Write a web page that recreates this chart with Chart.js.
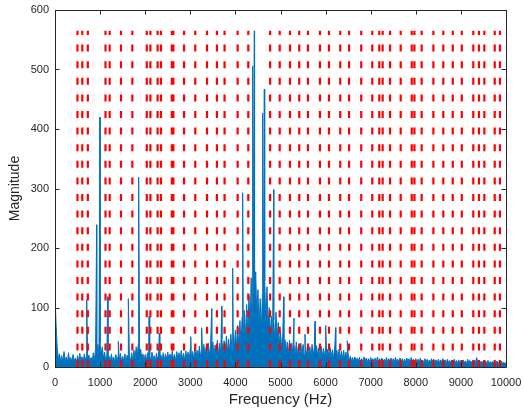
<!DOCTYPE html>
<html>
<head>
<meta charset="utf-8">
<script src="https://cdn.jsdelivr.net/npm/chart.js@4"></script>
<style>
  html, body { margin: 0; padding: 0; background: #ffffff; }
  #wrap { width: 524px; height: 414px; }
</style>
</head>
<body>
<div id="wrap"><canvas id="c" width="524" height="414"></canvas></div>
<script>
// ---------- DATA ----------
// Broadband spectrum floor, sampled every 25 Hz from 0 to 10000 Hz
const noiseStepHz = 25;
const noiseMag = [
  118, 70, 30, 14, 22, 9, 19, 8, 26, 10, 17, 7, 24, 9, 16, 8, 21, 10, 15, 8,
  19, 9, 23, 10, 17, 8, 22, 11, 18, 9, 20, 10, 16, 9, 24, 12, 30, 15, 38, 20,
  40, 22, 34, 14, 25, 10, 20, 9, 18, 8, 22, 10, 17, 9, 21, 8, 19, 10, 23, 9,
  18, 10, 22, 9, 20, 11, 17, 10, 24, 12, 28, 14, 34, 20, 40, 22, 30, 13, 22, 10,
  21, 9, 24, 11, 20, 10, 25, 12, 19, 9, 23, 11, 26, 12, 20, 10, 24, 11, 22, 12,
  25, 11, 22, 12, 27, 13, 21, 10, 26, 12, 24, 13, 28, 12, 23, 11, 27, 14, 25, 12,
  30, 14, 26, 13, 32, 15, 28, 14, 35, 16, 30, 15, 38, 17, 33, 16, 40, 18, 36, 17,
  42, 18, 37, 17, 45, 20, 40, 19, 48, 22, 44, 21, 52, 24, 47, 23, 55, 26, 60, 30,
  62, 32, 70, 35, 78, 38, 85, 42, 95, 48, 105, 55, 120, 65, 150, 80, 175, 90, 160, 85,
  130, 70, 115, 62, 125, 68, 145, 75, 135, 70, 100, 55, 85, 48, 78, 45, 92, 50, 75, 40,
  60, 32, 52, 28, 46, 25, 42, 22, 45, 24, 40, 21, 38, 20, 42, 22, 36, 19, 40, 21,
  38, 20, 35, 18, 37, 19, 34, 17, 38, 19, 33, 17, 36, 18, 32, 16, 35, 17, 31, 16,
  34, 16, 30, 15, 33, 16, 29, 14, 31, 15, 28, 13, 30, 14, 27, 13, 28, 13, 25, 12,
  22, 11, 18, 10, 16, 9, 17, 10, 15, 9, 16, 8, 14, 9, 17, 10, 15, 8, 14, 9,
  16, 9, 14, 8, 15, 9, 17, 8, 14, 9, 15, 8, 13, 9, 16, 8, 14, 9, 15, 8,
  14, 8, 16, 9, 13, 8, 15, 9, 14, 7, 13, 8, 15, 9, 14, 8, 16, 9, 13, 8,
  14, 8, 13, 7, 15, 8, 12, 7, 14, 8, 13, 7, 12, 8, 14, 7, 13, 8, 12, 7,
  13, 7, 12, 8, 14, 7, 12, 6, 13, 7, 11, 7, 12, 6, 13, 7, 11, 6, 12, 7,
  11, 6, 12, 7, 10, 6, 13, 7, 11, 6, 10, 6, 12, 7, 16, 7, 11, 6, 10, 6,
  11, 6, 10, 5, 11, 6, 9, 5, 10, 6, 9, 5, 10, 5, 9, 5, 10, 5, 8, 5,
  8
];

// Tonal peaks (Hz) and their magnitudes
const peakFreq = [703, 924, 998, 1168, 1404, 1626, 1855, 2085, 2313, 3010, 3252, 3474, 3696,
                  3940, 4161, 4383, 4420, 4605, 4641, 4849, 5070, 5299, 5543, 5765, 6002, 6224, 6482];
const peakMag  = [113, 239, 420, 118, 43, 115, 319, 85, 57, 51, 66, 98, 102,
                  166, 293, 506, 565, 427, 467, 298, 118, 82, 55, 77, 70, 66, 44];

// Marker frequencies (red dashed verticals) and their height
const markerFreq = [498, 605, 728, 1120, 1212, 1463, 1715, 2035, 2115, 2275, 2350, 2590, 2625,
                    2862, 3110, 3370, 3590, 3760, 4050, 4286, 4770, 4982, 5210, 5415, 5610,
                    5875, 6075, 6325, 6520, 6790, 7035, 7190, 7265, 7430, 7665, 7910, 7970,
                    8130, 8390, 8610, 8820, 9020, 9275, 9400, 9520, 9750, 9865];
const markerTop = 565;

const xTicks = [0, 1000, 2000, 3000, 4000, 5000, 6000, 7000, 8000, 9000, 10000];
const yTicks = [0, 100, 200, 300, 400, 500, 600];

// ---------- BUILD ----------
const spectrum = noiseMag.map((m, i) => ({ x: i * noiseStepHz, y: m }))
  .concat(peakFreq.map((f, i) => ({ x: f, y: peakMag[i] })))
  .sort((a, b) => a.x - b.x);

const FONT = "'Liberation Sans', Arial, Helvetica, sans-serif";
const AX = '#262626';
const BLUE = '#0072BD';

const datasets = [{
  data: spectrum,
  borderColor: BLUE,
  backgroundColor: BLUE,
  borderWidth: 1,
  fill: 'origin',
  pointRadius: 0,
  tension: 0,
  order: 1
}];
markerFreq.forEach(f => {
  datasets.push({
    data: [{ x: f, y: 0 }, { x: f, y: markerTop }],
    borderColor: '#ff0000',
    borderWidth: 2.2,
    borderDash: [7, 9.6],
    pointRadius: 0,
    fill: false,
    order: 0
  });
});

const boxPlugin = {
  id: 'box',
  afterDraw(chart) {
    const { ctx, chartArea: a, scales } = chart;
    ctx.save();
    ctx.strokeStyle = AX;
    ctx.lineWidth = 1;
    ctx.beginPath();
    ctx.rect(Math.round(a.left) + 0.5, Math.round(a.top) + 0.5,
             Math.round(a.right - a.left), Math.round(a.bottom - a.top));
    ctx.stroke();
    const tl = 4.5;
    ctx.beginPath();
    xTicks.forEach(v => {
      const px = Math.round(scales.x.getPixelForValue(v)) + 0.5;
      ctx.moveTo(px, a.bottom); ctx.lineTo(px, a.bottom - tl);
      ctx.moveTo(px, a.top); ctx.lineTo(px, a.top + tl);
    });
    yTicks.forEach(v => {
      const py = Math.round(scales.y.getPixelForValue(v)) + 0.5;
      ctx.moveTo(a.left, py); ctx.lineTo(a.left + tl, py);
      ctx.moveTo(a.right, py); ctx.lineTo(a.right - tl, py);
    });
    ctx.stroke();
    ctx.restore();
  }
};

function zeroPad(s) { s.paddingTop = 0; s.paddingBottom = 0; s.paddingLeft = 0; s.paddingRight = 0; }

new Chart(document.getElementById('c'), {
  type: 'line',
  data: { datasets },
  options: {
    responsive: false,
    animation: false,
    devicePixelRatio: 1,
    layout: { padding: { left: 0, top: 10, right: 18, bottom: 0 } },
    plugins: { legend: { display: false }, tooltip: { enabled: false } },
    scales: {
      x: {
        type: 'linear', min: 0, max: 10000,
        afterBuildTicks: s => { s.ticks = xTicks.map(v => ({ value: v })); },
        ticks: { color: AX, font: { family: FONT, size: 11 }, padding: 9, maxRotation: 0, autoSkip: false,
                 callback: v => String(v) },
        grid: { display: false, drawTicks: false },
        border: { display: false },
        title: { display: true, text: 'Frequency (Hz)', color: AX,
                 font: { family: FONT, size: 15 }, padding: { top: 0, bottom: 5 } },
        afterFit: s => { s.height = 47; zeroPad(s); }
      },
      y: {
        type: 'linear', min: 0, max: 600,
        afterBuildTicks: s => { s.ticks = yTicks.map(v => ({ value: v })); },
        ticks: { color: AX, font: { family: FONT, size: 11 }, padding: 6, callback: v => String(v) },
        grid: { display: false, drawTicks: false },
        border: { display: false },
        title: { display: true, text: 'Magnitude', color: AX,
                 font: { family: FONT, size: 14 }, padding: { top: 7, bottom: 0 } },
        afterFit: s => { s.width = 55; zeroPad(s); }
      }
    }
  },
  plugins: [boxPlugin]
});
</script>
</body>
</html>
